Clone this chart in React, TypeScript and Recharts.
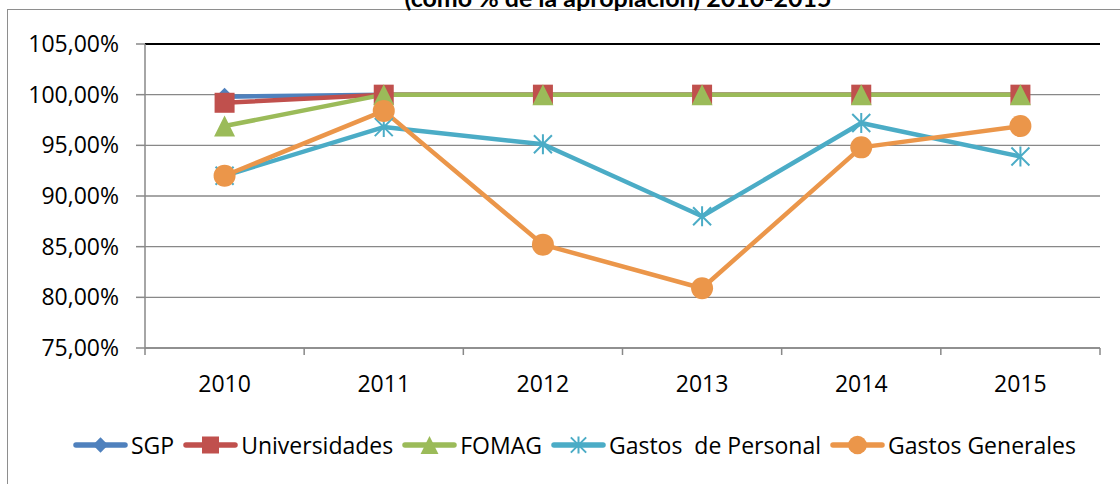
import { LineChart, Line, XAxis, YAxis, CartesianGrid, Legend, ReferenceLine } from 'recharts'

const YEARS = ['2010', '2011', '2012', '2013', '2014', '2015']
const SGP = [99.8, 100, 100, 100, 100, 100]
const UNIVERSIDADES = [99.2, 100, 100, 100, 100, 100]
const FOMAG = [96.9, 100, 100, 100, 100, 100]
const GASTOS_PERSONAL = [92.0, 96.8, 95.1, 88.0, 97.2, 93.9]
const GASTOS_GENERALES = [92.0, 98.4, 85.2, 80.9, 94.8, 96.9]
const Y_TICKS = [75, 80, 85, 90, 95, 100, 105]

const W = 1120
const H = 484
const PLOT_LEFT = 145
const PLOT_RIGHT = 1100
const STEP = (PLOT_RIGHT - PLOT_LEFT) / YEARS.length
const FONT = '"Open Sans", sans-serif'
const GRAY = '#888888'

type Shape = 'diamond' | 'square' | 'triangle' | 'star' | 'circle'

const series: { key: string; name: string; values: number[]; color: string; shape: Shape }[] = [
  { key: 'sgp', name: 'SGP', values: SGP, color: '#4F81BD', shape: 'diamond' },
  { key: 'univ', name: 'Universidades', values: UNIVERSIDADES, color: '#C0504D', shape: 'square' },
  { key: 'fomag', name: 'FOMAG', values: FOMAG, color: '#9BBB59', shape: 'triangle' },
  { key: 'personal', name: 'Gastos  de Personal', values: GASTOS_PERSONAL, color: '#4BACC6', shape: 'star' },
  { key: 'generales', name: 'Gastos Generales', values: GASTOS_GENERALES, color: '#EB964A', shape: 'circle' },
]

const data = YEARS.map((year, i) => {
  const row: Record<string, string | number> = { year }
  series.forEach((s) => {
    row[s.key] = s.values[i]
  })
  return row
})

function Marker({ shape, cx, cy, color, s = 1 }: { shape: Shape; cx: number; cy: number; color: string; s?: number }) {
  if (shape === 'diamond') {
    const r = 9 * s
    return <path d={`M${cx},${cy - r}L${cx + r},${cy}L${cx},${cy + r}L${cx - r},${cy}Z`} fill={color} />
  }
  if (shape === 'square') {
    const r = 10 * s
    return <rect x={cx - r} y={cy - r} width={2 * r} height={2 * r} fill={color} />
  }
  if (shape === 'triangle') {
    const r = 10.5 * s
    return <path d={`M${cx},${cy - r}L${cx + r},${cy + r}L${cx - r},${cy + r}Z`} fill={color} />
  }
  if (shape === 'star') {
    const r = 10 * s
    const d = 9 * s
    return (
      <path
        d={`M${cx},${cy - r}L${cx},${cy + r}M${cx - d},${cy - d}L${cx + d},${cy + d}M${cx + d},${cy - d}L${cx - d},${cy + d}`}
        stroke={color}
        strokeWidth={2}
        fill="none"
      />
    )
  }
  return <circle cx={cx} cy={cy} r={11 * s} fill={color} />
}

function YearTick(props: any) {
  const { x, y, payload, index } = props
  return (
    <g>
      <line x1={x - STEP / 2} x2={x - STEP / 2} y1={y} y2={y + 7} stroke={GRAY} strokeWidth={1.5} />
      {index === YEARS.length - 1 && (
        <line x1={x + STEP / 2} x2={x + STEP / 2} y1={y} y2={y + 7} stroke={GRAY} strokeWidth={1.5} />
      )}
      <text x={x} y={y + 44} textAnchor="middle" fill="#000" fontSize={23} fontFamily={FONT}>
        {payload.value}
      </text>
    </g>
  )
}

function ChartLegend() {
  return (
    <div style={{ display: 'flex', alignItems: 'center', paddingLeft: 73, fontFamily: FONT, fontSize: 23, lineHeight: '28px', color: '#000' }}>
      {series.map((s) => (
        <div key={s.key} style={{ display: 'flex', alignItems: 'center' }}>
          <svg width={55} height={24} style={{ display: 'block' }}>
            <line x1={3} x2={52} y1={12} y2={12} stroke={s.color} strokeWidth={5.5} strokeLinecap="round" />
            <Marker shape={s.shape} cx={27.5} cy={12} color={s.color} s={0.85} />
          </svg>
          <span style={{ marginLeft: 3, marginRight: 9, whiteSpace: 'pre' }}>{s.name}</span>
        </div>
      ))}
    </div>
  )
}

export default function App() {
  return (
    <div style={{ position: 'absolute', left: 0, top: 0, width: W, height: H, background: '#fff', overflow: 'hidden' }}>
      <div style={{ position: 'absolute', left: 7, top: 9, width: 1300, height: 600, border: '1.5px solid #8e8e8e' }} />
      {/* title sits above the frame, only its lower half shows, as in the source */}
      <div
        style={{
          position: 'absolute',
          left: 618,
          top: -15,
          transform: 'translateX(-50%)',
          whiteSpace: 'nowrap',
          fontFamily: 'Lato, sans-serif',
          fontWeight: 700,
          fontSize: 25,
          lineHeight: '25px',
        }}
      >
        (como % de la apropiación) 2010-2015
      </div>
      <div style={{ position: 'absolute', left: 0, top: 0 }}>
        <LineChart width={W} height={H} data={data} margin={{ top: 44, right: 20, bottom: 0, left: 0 }}>
          <CartesianGrid yAxisId="left" vertical={false} stroke={GRAY} strokeWidth={1.3} />
          <XAxis
            dataKey="year"
            padding={{ left: STEP / 2, right: STEP / 2 }}
            height={136}
            interval={0}
            tickSize={0}
            tickMargin={0}
            tickLine={false}
            axisLine={{ stroke: GRAY, strokeWidth: 1.5 }}
            tick={<YearTick />}
          />
          <YAxis
            yAxisId="left"
            domain={[75, 105]}
            ticks={Y_TICKS}
            width={145}
            tickSize={9}
            tickMargin={17}
            axisLine={{ stroke: GRAY, strokeWidth: 1.5 }}
            tickLine={{ stroke: GRAY, strokeWidth: 1.5 }}
            tick={{ fill: '#000', fontSize: 23, fontFamily: FONT }}
            tickFormatter={(v: number) => v.toFixed(2).replace('.', ',') + '%'}
          />
          <YAxis
            yAxisId="right"
            orientation="right"
            domain={[75, 105]}
            width={0}
            tick={false}
            tickLine={false}
            axisLine={{ stroke: '#000', strokeWidth: 2 }}
          />
          <ReferenceLine yAxisId="left" y={105} stroke="#000" strokeWidth={2} />
          {series.map((s) => (
            <Line
              key={s.key}
              yAxisId="left"
              type="linear"
              dataKey={s.key}
              name={s.name}
              stroke={s.color}
              strokeWidth={4.5}
              strokeLinejoin="round"
              isAnimationActive={false}
              dot={(p: any) => <Marker key={`${s.key}-${p.index}`} shape={s.shape} cx={p.cx} cy={p.cy} color={s.color} />}
              activeDot={false}
            />
          ))}
          <Legend
            verticalAlign="middle"
            align="center"
            layout="horizontal"
            wrapperStyle={{ left: 0, top: 431, width: W }}
            content={() => <ChartLegend />}
          />
        </LineChart>
      </div>
    </div>
  )
}
